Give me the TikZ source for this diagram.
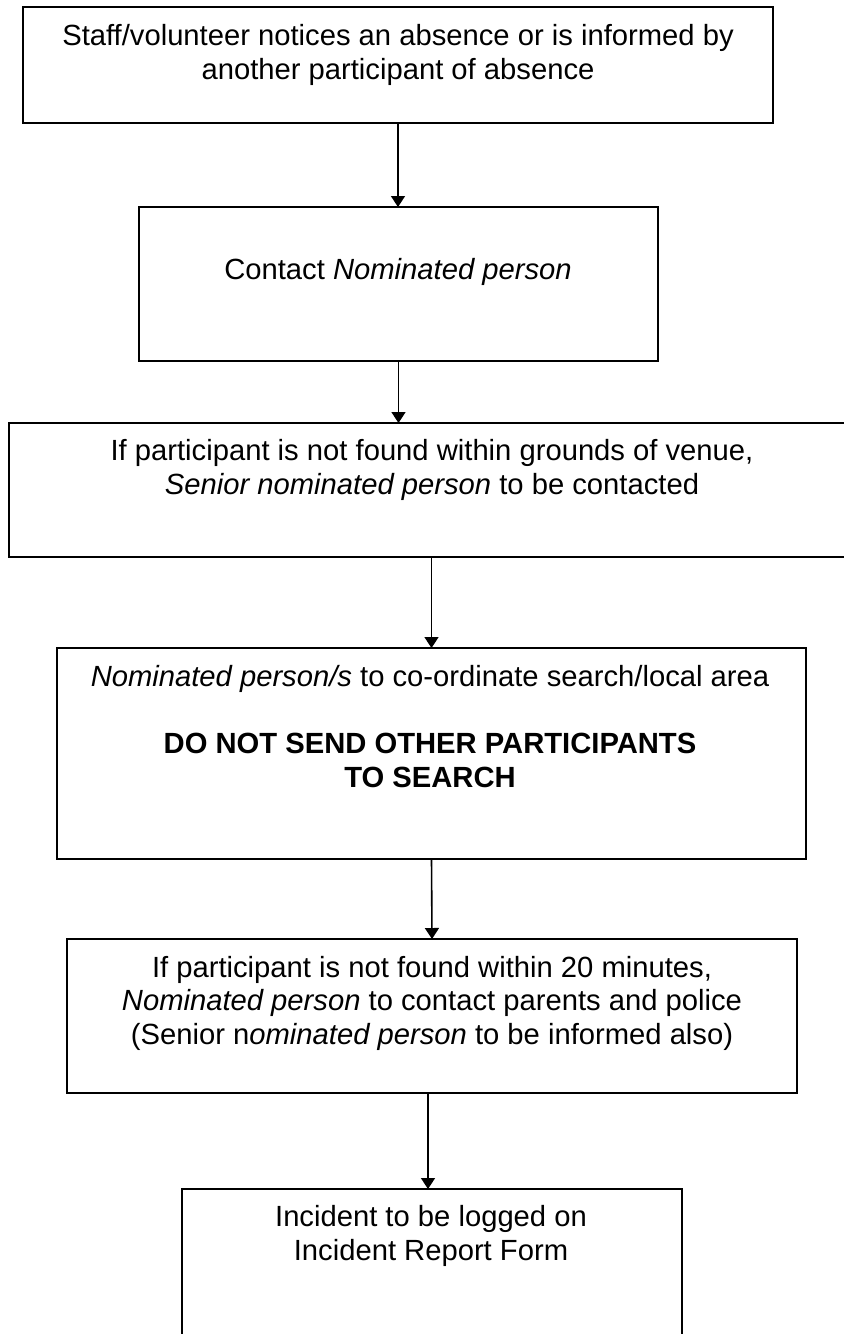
\documentclass[tikz,border=0pt]{standalone}
\usepackage{fontspec}
\setmainfont{Liberation Sans}
\usepackage{tikz}
\usetikzlibrary{arrows.meta}

\tikzset{
  stepbox/.style={draw, line width=0.85pt, inner sep=0pt, outer sep=0pt},
  steptext/.style={anchor=base, align=center, inner sep=0pt,
    font=\fontsize{14.6}{16.75}\selectfont},
  flow/.style={->, line width=0.8pt}
}

\begin{document}
\begin{tikzpicture}[x=0.5pt,y=-0.5pt,>={Triangle[width=7pt,length=5.5pt]}]
\useasboundingbox (0,0) rectangle (843,1334);
%boxes
\node[stepbox, minimum width=375pt, minimum height=58pt] (notice) at (398,65) {};
\node[stepbox, minimum width=259.5pt, minimum height=77pt] (contact) at (398.5,284) {};
\node[stepbox, minimum width=423pt, minimum height=67pt] (senior) at (432,490) {};
\node[stepbox, minimum width=374.5pt, minimum height=105.5pt] (search) at (431.5,753.5) {};
\node[stepbox, minimum width=365pt, minimum height=77pt] (police) at (432,1016) {};
\node[stepbox, minimum width=250pt, minimum height=85.5pt] (logged) at (432,1274.5) {};
%texts (placed at the baseline of their last line)
\node[steptext] (notice-t) at (398,79)
  {Staff/volunteer notices an absence or is informed by\\ another participant of absence};
\node[steptext] (contact-t) at (398,279) {Contact \textit{Nominated person}};
\node[steptext] (senior-t) at (432,494)
  {If participant is not found within grounds of venue,\\ \textit{Senior nominated person} to be contacted};
\node[steptext] (search-t) at (430,787)
  {\textit{Nominated person/s} to co-ordinate search/local area\\[16.75pt]
   \textbf{DO NOT SEND OTHER PARTICIPANTS}\\ \textbf{TO SEARCH}};
\node[steptext] (police-t) at (432,1044)
  {If participant is not found within 20 minutes,\\
   \textit{Nominated person} to contact parents and police\\
   (Senior n\textit{ominated person} to be informed also)};
\node[steptext] (logged-t) at (431,1260)
  {Incident to be logged on\\ Incident Report Form};
%arrows
\draw[flow] (notice.south) -- (notice.south |- contact.north);
\draw[flow] (contact.south) -- (contact.south |- senior.north);
\draw[flow] (senior.south -| search.north) -- (search.north);
\draw[flow] (search.south) -- (police.north);
\draw[flow] ([xshift=-2pt]police.south) -- ([xshift=-2pt]logged.north);
\end{tikzpicture}
\end{document}
